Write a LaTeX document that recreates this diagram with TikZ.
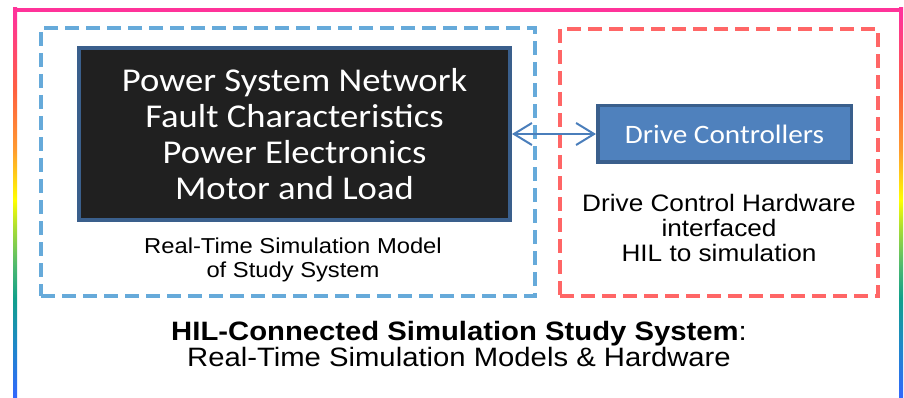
\documentclass[tikz,border=0pt]{standalone}
\usepackage{fontspec}
\setmainfont{Liberation Sans}[FakeStretch=1.1]
\newfontfamily\calibri{Carlito}[FakeStretch=1.1]
\usetikzlibrary{positioning,arrows.meta}

\definecolor{framepink}{RGB}{255,51,153}
\definecolor{rb1}{RGB}{51,102,255}
\definecolor{rb2}{RGB}{30,136,200}
\definecolor{rb3}{RGB}{17,160,138}
\definecolor{rb4}{RGB}{76,184,112}
\definecolor{rb5}{RGB}{170,221,51}
\definecolor{rb6}{RGB}{255,255,0}
\definecolor{rb7}{RGB}{255,154,48}
\definecolor{rb8}{RGB}{255,96,64}
\definecolor{rb9}{RGB}{255,51,153}
\definecolor{simblue}{RGB}{102,170,218}
\definecolor{hwred}{RGB}{255,102,102}
\definecolor{boxedge}{RGB}{58,95,140}
\definecolor{modelfill}{RGB}{32,32,32}
\definecolor{ctrlfill}{RGB}{79,129,189}
\definecolor{linkblue}{RGB}{74,126,187}

\pgfdeclareverticalshading{rainbow}{100bp}{color(0bp)=(rb1); color(25bp)=(rb1);
  color(32bp)=(rb2); color(38bp)=(rb3); color(42bp)=(rb4); color(47bp)=(rb5);
  color(50.5bp)=(rb6); color(57bp)=(rb7); color(64.5bp)=(rb8); color(74bp)=(rb9);
  color(100bp)=(rb9)}

\begin{document}
\begin{tikzpicture}[x=1pt, y=-1pt,
    group/.style={line width=4.5pt, dash pattern=on 14pt off 7pt, inner sep=0pt},
    model/.style={draw=boxedge, fill=modelfill, line width=4pt, text=white,
      align=center, inner sep=0pt, minimum width=431pt, minimum height=172pt,
      font=\calibri\fontsize{33.3}{36}\selectfont},
    ctrl/.style={draw=boxedge, fill=ctrlfill, line width=3.5pt, text=white,
      inner sep=0pt, minimum width=253.5pt, minimum height=56.5pt,
      font=\calibri\fontsize{26.6}{28}\selectfont},
    caption/.style={align=center, font=\fontsize{21.6}{24}\selectfont},
    link/.style={draw=linkblue, line width=2pt,
      >={Straight Barb[length=18pt,width=22pt]}, <->}]
    \clip (0,0) rectangle (904,398);

    % outer frame
    \shade[shading=rainbow] (13,8) rectangle (17,400);
    \shade[shading=rainbow] (899,8) rectangle (903,400);
    \fill[framepink] (13,8) rectangle (903,12);

    % simulation side and hardware side
    \node[group, draw=simblue, minimum width=494pt, minimum height=268pt] (3) at (288,162) {};
    \node[group, draw=hwred, minimum width=318pt, minimum height=267pt] (4) at (719,162.5) {};

    \node[model] (1) at (294.5,134) {Power System Network\\Fault Characteristics\\Power Electronics\\Motor and Load};
    \node[ctrl] (2) [right=84pt of 1] {Drive Controllers};

    \node[caption] (5) at (293,260) {Real-Time Simulation Model\\of Study System};
    \node[caption, font=\fontsize{23.8}{25}\selectfont] (6) at (719,228) {Drive Control Hardware\\interfaced\\HIL to simulation};

    \node[align=center, font=\fontsize{26.6}{26}\selectfont] (7) at (459,344)
      {\textbf{HIL-Connected Simulation Study System}:\\Real-Time Simulation Models \& Hardware};

    \draw[link] (1) -- (2);
\end{tikzpicture}
\end{document}
